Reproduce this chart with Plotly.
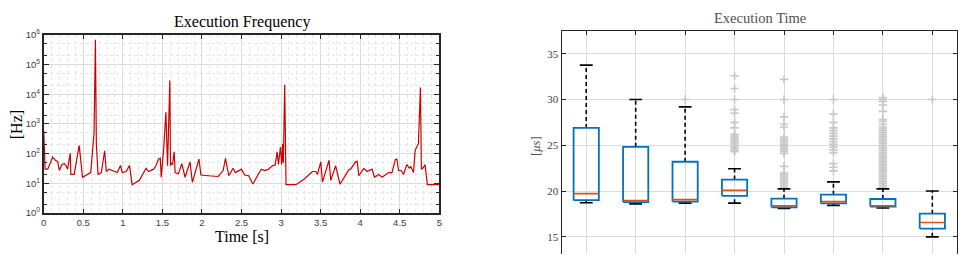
import plotly.graph_objects as go

# ---------------- data: execution frequency ----------------
time_s = [0.000, 0.017, 0.050, 0.113, 0.146, 0.176, 0.197, 0.230, 0.259, 0.280,
          0.301, 0.335, 0.343, 0.385, 0.448, 0.490, 0.594, 0.636, 0.653, 0.665,
          0.686, 0.728, 0.770, 0.791, 0.824, 0.866, 0.929, 0.971, 0.992, 1.042,
          1.084, 1.117, 1.209, 1.293, 1.326, 1.389, 1.418, 1.452, 1.473, 1.485,
          1.515, 1.544, 1.565, 1.594, 1.602, 1.607, 1.628, 1.649, 1.661, 1.703,
          1.745, 1.787, 1.849, 1.879, 1.962, 1.987, 2.079, 2.205, 2.268, 2.297,
          2.339, 2.393, 2.423, 2.498, 2.540, 2.590, 2.644, 2.749, 2.791, 2.833,
          2.895, 2.925, 2.950, 2.967, 2.992, 3.008, 3.021, 3.029, 3.046, 3.063,
          3.188, 3.293, 3.397, 3.439, 3.460, 3.502, 3.523, 3.607, 3.628, 3.690,
          3.745, 3.858, 3.879, 3.941, 3.962, 3.983, 4.046, 4.088, 4.151, 4.180,
          4.234, 4.276, 4.360, 4.402, 4.444, 4.464, 4.485, 4.519, 4.548, 4.590,
          4.623, 4.640, 4.674, 4.695, 4.736, 4.762, 4.774, 4.799, 4.820, 4.849,
          5.000]
freq_hz = [600, 30, 30, 76, 60, 55, 27, 43, 46, 40,
           30, 102, 20, 20, 190, 16, 23, 500, 690000, 210,
           20, 23, 125, 25, 30, 27, 23, 40, 23, 25,
           40, 9, 12.6, 32, 25, 30, 39, 66, 70, 16,
           130, 2500, 39, 29000, 39, 49, 43, 115, 23, 21,
           46, 16, 53, 10.7, 66, 19, 18, 17, 27, 70,
           18, 32, 23, 30, 19, 18, 9.5, 30, 27, 29,
           40, 41, 115, 43, 166, 43, 213, 49, 21000, 9,
           9, 14, 25, 25, 20, 53, 11, 60, 12.6, 39,
           9.3, 29, 30, 53, 55, 18, 32, 25, 30, 16,
           20, 16, 23, 23, 63, 66, 27, 27, 20, 43,
           32, 37, 23, 130, 213, 17000, 30, 34, 43, 9,
           9]

freq_tickvals = [1, 10, 100, 1000, 10000, 100000, 1000000]
freq_ticktext = ["10<sup>0</sup>", "10<sup>1</sup>", "10<sup>2</sup>", "10<sup>3</sup>",
                 "10<sup>4</sup>", "10<sup>5</sup>", "10<sup>6</sup>"]
time_tickvals = [0, 0.5, 1, 1.5, 2, 2.5, 3, 3.5, 4, 4.5, 5]
time_ticktext = ["0", "0.5", "1", "1.5", "2", "2.5", "3", "3.5", "4", "4.5", "5"]

# ---------------- data: execution time box plots ----------------
box_pos = [1, 2, 3, 4, 5, 6, 7, 8]
box_q1 = [19.0, 18.8, 18.85, 19.48, 18.23, 18.65, 18.3, 15.9]
box_med = [19.72, 18.95, 19.06, 20.07, 18.4, 18.85, 18.4, 16.56]
box_q3 = [26.9, 24.83, 23.2, 21.25, 19.17, 19.6, 19.13, 17.53]
box_lo = [18.72, 18.6, 18.68, 18.68, 18.1, 18.44, 18.15, 15.0]
box_hi = [33.75, 30.0, 29.2, 22.43, 20.24, 21.0, 20.24, 20.0]
outliers = [
    [],
    [],
    [30.0],
    [32.6, 31.2, 30.0, 28.9, 28.5, 27.5, 26.9, 26.2, 26.0, 25.8, 25.6, 25.4, 25.2,
     25.0, 24.8, 24.6, 24.4, 24.3],
    [32.2, 30.0, 28.1, 27.3, 27.0, 25.9, 25.7, 25.5, 25.3, 25.1, 24.9, 24.7, 24.5,
     24.3, 24.1, 22.7, 22.0, 21.8, 21.6, 21.4, 21.2, 21.0, 20.8, 20.6, 20.4],
    [30.0, 28.4, 27.5, 26.9, 26.6, 26.3, 26.0, 25.7, 25.4, 25.1, 24.8, 24.5, 24.2,
     23.0, 22.6, 22.2],
    [30.2, 30.0, 29.8, 29.4, 28.7, 27.8, 27.6, 27.3, 27.0, 26.8, 26.6, 26.4, 26.2,
     26.0, 25.8, 25.6, 25.4, 25.2, 25.0, 24.8, 24.6, 24.4, 24.2, 24.0, 23.8, 23.6,
     23.4, 23.2, 23.0, 22.8, 22.6, 22.4, 22.2, 22.0, 21.8, 21.6, 21.4, 21.2, 21.0,
     20.8, 20.6, 20.4, 20.3],
    [30.0],
]
time_yticks = [15, 20, 25, 30, 35]

# ---------------- styles ----------------
RED = "#CC0000"
BLUE = "#0072BD"
ORANGE = "#D95319"
AXC = "#262626"
GRID = "#DCDCDC"
HALF_W = 0.255
CAP_W = 0.13

fig = go.Figure()

# left: execution frequency
fig.add_trace(go.Scatter(x=time_s, y=freq_hz, mode="lines",
                         line=dict(color=RED, width=1.2),
                         xaxis="x", yaxis="y", showlegend=False, hoverinfo="skip"))

# right: outliers
ox, oy = [], []
for p, vals in zip(box_pos, outliers):
    for v in vals:
        ox.append(p)
        oy.append(v)
fig.add_trace(go.Scatter(x=ox, y=oy, mode="markers",
                         marker=dict(symbol="cross-thin", size=6, color="#C8C8C8",
                                     line=dict(color="#C8C8C8", width=1.6)),
                         xaxis="x2", yaxis="y2", showlegend=False))

# whiskers (dashed)
wx, wy = [], []
for p, lo, q1, q3, hi in zip(box_pos, box_lo, box_q1, box_q3, box_hi):
    wx += [p, p, None, p, p, None]
    wy += [lo, q1, None, q3, hi, None]
fig.add_trace(go.Scatter(x=wx, y=wy, mode="lines",
                         line=dict(color="black", width=1.6, dash="4px,3px"),
                         xaxis="x2", yaxis="y2", showlegend=False))
# caps
cx, cy = [], []
for p, lo, hi in zip(box_pos, box_lo, box_hi):
    cx += [p - CAP_W, p + CAP_W, None, p - CAP_W, p + CAP_W, None]
    cy += [lo, lo, None, hi, hi, None]
fig.add_trace(go.Scatter(x=cx, y=cy, mode="lines",
                         line=dict(color="black", width=1.6),
                         xaxis="x2", yaxis="y2", showlegend=False))
# boxes
bx, by = [], []
for p, q1, q3 in zip(box_pos, box_q1, box_q3):
    bx += [p - HALF_W, p + HALF_W, p + HALF_W, p - HALF_W, p - HALF_W, None]
    by += [q1, q1, q3, q3, q1, None]
fig.add_trace(go.Scatter(x=bx, y=by, mode="lines",
                         line=dict(color=BLUE, width=1.8),
                         xaxis="x2", yaxis="y2", showlegend=False))
# medians
mx, my = [], []
for p, m in zip(box_pos, box_med):
    mx += [p - HALF_W, p + HALF_W, None]
    my += [m, m, None]
fig.add_trace(go.Scatter(x=mx, y=my, mode="lines",
                         line=dict(color=ORANGE, width=1.6),
                         xaxis="x2", yaxis="y2", showlegend=False))

W, H = 967, 259
L_x0, L_x1, L_y0, L_y1 = 41, 439, 29.3, 216
R_x0, R_x1, R_y0, R_y1 = 562, 960, 25, 259

fig.update_layout(
    width=W, height=H,
    margin=dict(l=0, r=0, t=0, b=0),
    paper_bgcolor="white", plot_bgcolor="white",
    xaxis=dict(domain=[L_x0 / W, L_x1 / W], anchor="y", range=[0, 5],
               tickvals=time_tickvals, ticktext=time_ticktext,
               ticks="inside", ticklen=4, tickcolor=AXC,
               showline=True, linecolor=AXC, linewidth=1.6, mirror="ticks",
               showgrid=True, gridcolor=GRID, gridwidth=1, zeroline=False,
               minor=dict(dtick=0.1, showgrid=True, gridcolor="#E6E6E6",
                          griddash="dot", ticks=""),
               tickfont=dict(family="Liberation Sans", size=9.5, color="#404040")),
    yaxis=dict(domain=[1 - L_y1 / H, 1 - L_y0 / H], anchor="x", type="log",
               range=[0, 6], tickvals=freq_tickvals, ticktext=freq_ticktext,
               ticks="inside", ticklen=5, tickcolor=AXC,
               showline=True, linecolor=AXC, linewidth=1.8, mirror="ticks",
               showgrid=True, gridcolor=GRID, gridwidth=1, zeroline=False,
               minor=dict(showgrid=True, gridcolor="#E6E6E6", griddash="dot",
                          ticks="inside", ticklen=3, tickcolor=AXC),
               tickfont=dict(family="Liberation Sans", size=9.5, color="#404040")),
    xaxis2=dict(domain=[R_x0 / W, R_x1 / W], anchor="y2", range=[0.5, 8.5],
                side="top", tickvals=box_pos, showticklabels=False,
                ticks="inside", ticklen=4, tickcolor=AXC,
                showline=True, linecolor=AXC, linewidth=1, mirror=False,
                showgrid=True, gridcolor=GRID, gridwidth=1, zeroline=False),
    yaxis2=dict(domain=[1 - R_y1 / H, 1 - R_y0 / H], anchor="x2",
                range=[13.125, 37.5], tickvals=time_yticks,
                ticks="inside", ticklen=4, tickcolor=AXC,
                showline=True, linecolor=AXC, linewidth=1, mirror="ticks",
                showgrid=True, gridcolor=GRID, gridwidth=1, zeroline=False,
                tickfont=dict(family="Liberation Serif", size=11, color="#404040")),
    annotations=[
        dict(text="Execution Frequency", x=240 / W, y=1 - 16 / H, xref="paper", yref="paper",
             showarrow=False, xanchor="center", yanchor="middle",
             font=dict(family="Liberation Serif", size=16, color="black")),
        dict(text="Time [s]", x=240 / W, y=1 - 241 / H, xref="paper", yref="paper",
             showarrow=False, xanchor="center", yanchor="middle",
             font=dict(family="Liberation Serif", size=16, color="black")),
        dict(text="[Hz]", x=13 / W, y=1 - 123 / H, xref="paper", yref="paper",
             showarrow=False, xanchor="center", yanchor="middle", textangle=-90,
             font=dict(family="Liberation Serif", size=16, color="black")),
        dict(text="Execution Time", x=762 / W, y=1 - 12 / H, xref="paper", yref="paper",
             showarrow=False, xanchor="center", yanchor="middle",
             font=dict(family="Liberation Serif", size=14.5, color="#505050")),
        dict(text="[<i>μs</i>]", x=537 / W, y=1 - 146 / H, xref="paper", yref="paper",
             showarrow=False, xanchor="center", yanchor="middle", textangle=-90,
             font=dict(family="Liberation Serif", size=12.5, color="#505050")),
    ],
)

fig.write_html("out.html")
